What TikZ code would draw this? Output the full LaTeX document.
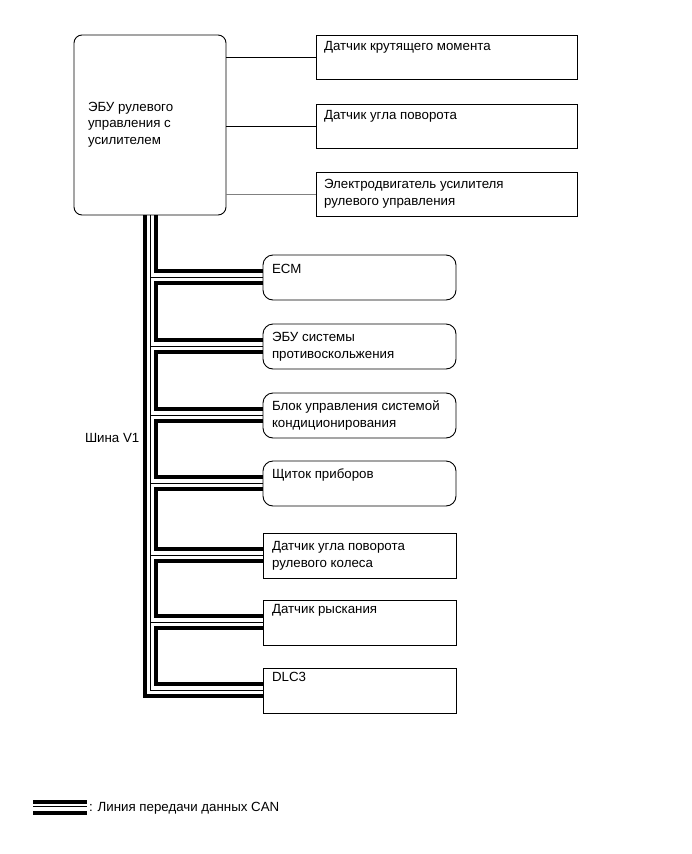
\documentclass[tikz,border=0pt]{standalone}
\usepackage{fontspec}
\setmainfont{Liberation Sans}
\usetikzlibrary{calc}
\newcommand\boxtext[1]{\parbox[t]{240pt}{\raggedright #1}}
\begin{document}
\begin{tikzpicture}[x=1pt,y=-1pt,
  every node/.style={inner sep=0pt, outer sep=0pt},
  txt/.style={font=\fontsize{13.3}{16.5}\selectfont, anchor=base west},
  ecubox/.style={draw, line width=0.9pt, rounded corners=8pt, anchor=north west, minimum width=152pt, minimum height=180pt},
  rbox/.style={draw, line width=0.9pt, anchor=north west, minimum width=261pt, minimum height=44pt},
  busround/.style={draw, line width=0.9pt, rounded corners=10pt, anchor=north west, minimum width=193pt, minimum height=45pt},
  bussharp/.style={draw, line width=0.9pt, anchor=north west, minimum width=193pt, minimum height=45pt},
  conn/.style={line width=0.9pt},
  canthick/.style={line width=4pt},
  canthin/.style={line width=1pt}
]
\useasboundingbox (0,0) rectangle (691,854);

% ECU and sensors
\node[ecubox] (ecu) at (74,35) {};
\node[txt] (ecut) at ($(ecu.north west)+(14,76)$) {\boxtext{ЭБУ рулевого\\управления с\\усилителем}};

\node[rbox] (r1) at (316,35) {};
\node[rbox] (r2) at (316,104) {};
\node[rbox] (r3) at (316,172) {};
\node[txt] (r1t) at ($(r1.north west)+(8,15.5)$) {\boxtext{Датчик крутящего момента}};
\node[txt] (r2t) at ($(r2.north west)+(8,15.5)$) {\boxtext{Датчик угла поворота}};
\node[txt] (r3t) at ($(r3.north west)+(8,16.5)$) {\boxtext{Электродвигатель усилителя\\рулевого управления}};

\draw[conn] (ecu.east |- r1.west) -- (r1.west);
\draw[conn] (ecu.east |- r2.west) -- (r2.west);
\draw[conn, gray] (ecu.east |- r3.west) -- (r3.west);

% bus modules
\node[busround] (ecm) at (263,255) {};
\node[busround] (abs) at (263,324) {};
\node[busround] (ac) at (263,393) {};
\node[busround] (ip) at (263,461) {};
\node[bussharp] (sas) at (263,533) {};
\node[bussharp] (yaw) at (263,600) {};
\node[bussharp] (dlc) at (263,668) {};

\node[txt] (ecmt) at ($(ecm.north west)+(9,18)$) {\boxtext{ECM}};
\node[txt] (abst) at ($(abs.north west)+(9,17.5)$) {\boxtext{ЭБУ системы\\противоскольжения}};
\node[txt] (act) at ($(ac.north west)+(9,17.5)$) {\boxtext{Блок управления системой\\кондиционирования}};
\node[txt] (ipt) at ($(ip.north west)+(9,17.5)$) {\boxtext{Щиток приборов}};
\node[txt] (sast) at ($(sas.north west)+(9,17.5)$) {\boxtext{Датчик угла поворота\\рулевого колеса}};
\node[txt] (yawt) at ($(yaw.north west)+(9,13.5)$) {\boxtext{Датчик рыскания}};
\node[txt] (dlct) at ($(dlc.north west)+(9,13.5)$) {\boxtext{DLC3}};

% CAN bus
\draw[canthick] ($(ecu.south west)+(71,0)$) |- ($(dlc.north west)+(0,28)$);
\draw[canthin] ($(ecu.south west)+(76.5,0)$) |- ($(dlc.north west)+(0,22)$);
\draw[canthick] ($(ecu.south west)+(81.5,0)$) |- ($(ecm.north west)+(0,16)$);
\foreach \a/\b in {ecm/abs, abs/ac, ac/ip, ip/sas, sas/yaw, yaw/dlc}{
  \draw[canthick] ($(\a.north west)+(0,28)$) -- ++(-107.5,0) |- ($(\b.north west)+(0,16)$);
  \draw[canthin] ($(\a.north west)+(0,22)$) -- ++(-112.5,0);
}

\node[txt] (bus) at (85,442) {Шина V1};

% legend
\coordinate (lga) at (33,802);
\coordinate (lgb) at (87,802);
\draw[canthick] (lga) -- (lgb);
\draw[canthin] ($(lga)+(0,4.5)$) -- ($(lgb)+(0,4.5)$);
\draw[canthick] ($(lga)+(0,10.5)$) -- ($(lgb)+(0,10.5)$);
\node[txt] (lgt) at (89,811) {: Линия передачи данных CAN};
\end{tikzpicture}
\end{document}
